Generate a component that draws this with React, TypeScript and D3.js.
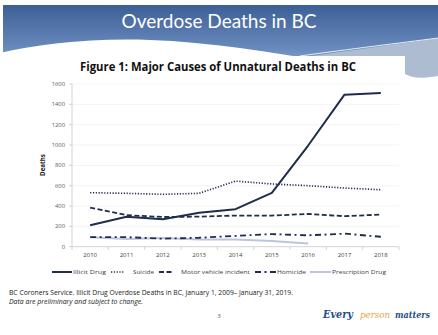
import React from "react";
import * as d3 from "d3";

const years = ["2010", "2011", "2012", "2013", "2014", "2015", "2016", "2017", "2018"];
const illicitDrug = [211, 294, 270, 334, 369, 530, 995, 1495, 1512];
const suicide = [531, 525, 515, 525, 645, 617, 600, 577, 560];
const motorVehicle = [385, 310, 292, 296, 306, 306, 322, 300, 316];
const homicide = [95, 94, 79, 88, 106, 124, 112, 128, 98];
const prescriptionDrug = [92, 76, 86, 72, 72, 55, 32];
const yTicks = [0, 200, 400, 600, 800, 1000, 1200, 1400, 1600];

const W = 438, H = 335;
const NAVY = "#1f2c4c";

type S = { name: string; values: number[]; color: string; width: number; dash?: string };
const series: S[] = [
  { name: "Illicit Drug", values: illicitDrug, color: NAVY, width: 2, dash: undefined },
  { name: "Suicide", values: suicide, color: NAVY, width: 1.6, dash: "1.2,1.6" },
  { name: "Motor vehicle incident", values: motorVehicle, color: NAVY, width: 1.8, dash: "5,2.5" },
  { name: "Homicide", values: homicide, color: NAVY, width: 1.8, dash: "6,3.5,2,3.5" },
  { name: "Prescription Drug", values: prescriptionDrug, color: "#bcc5de", width: 2, dash: undefined },
];

export default function App() {
  const x = d3.scaleBand<string>().domain(years).range([72, 399]);
  const y = d3.scaleLinear().domain([0, 1600]).range([246.7, 84]);
  const line = d3
    .line<number>()
    .x((_, i) => (x(years[i]) as number) + x.bandwidth() / 2)
    .y((d) => y(d));
  const font = "'Open Sans', 'Liberation Sans', sans-serif";

  const legendItems = [
    { s: series[0], x0: 52, x1: 72, tx: 73, tw: 33 },
    { s: series[1], x0: 111, x1: 125, tx: 133, tw: 21 },
    { s: series[2], x0: 159, x1: 174, tx: 181, tw: 69 },
    { s: series[3], x0: 255, x1: 276, tx: 277, tw: 29 },
    { s: series[4], x0: 310, x1: 331, tx: 332, tw: 54 },
  ];

  return (
    <svg width={W} height={H} style={{ position: "absolute", left: 0, top: 0, background: "#fff" }}>
      <defs>
        <linearGradient id="hdr" x1="0" y1="0" x2="0" y2="1">
          <stop offset="0" stopColor="#3c5f96" />
          <stop offset="0.6" stopColor="#6a8bbd" />
          <stop offset="1" stopColor="#a9bfdc" />
        </linearGradient>
      </defs>
      {/* header banner */}
      <rect x={3} y={5} width={435} height={75} fill="url(#hdr)" />
      <path d="M300,58 C350,50 400,44 438,38 L438,80 L300,80 Z" fill="#aebcd2" />
      <path d="M300,56 C350,49 400,43 438,38" fill="none" stroke="#e6edf6" strokeWidth={1} />
      <path d="M0,53 C40,44 90,38 150,40 C210,42 270,52 330,62 L405,70 L405,80 L0,80 Z" fill="#ffffff" />
      <path d="M405,74 C412,78 420,79 438,76 L438,90 L405,90 Z" fill="#ffffff" />
      <rect x={0} y={80} width={438} height={255} fill="#ffffff" />
      <rect x={0} y={56} width={405} height={30} fill="#ffffff" />
      <text x={219} y={28} textAnchor="middle" fill="#ffffff" fontFamily="Lato, sans-serif" fontSize={19}>
        Overdose Deaths in BC
      </text>

      {/* figure title */}
      <text x={80} y={71} fontFamily={font} fontWeight="bold" fontSize={11.5} fill="#111" textLength={276} lengthAdjust="spacingAndGlyphs">
        Figure 1: Major Causes of Unnatural Deaths in BC
      </text>

      {/* gridlines */}
      {yTicks.slice(1).map((t) => (
        <line key={t} x1={72} x2={399} y1={y(t)} y2={y(t)} stroke="#f0f0f0" strokeWidth={0.8} />
      ))}
      {/* axes */}
      <line x1={72} x2={72} y1={84} y2={246.7} stroke="#c8c8c8" strokeWidth={0.8} />
      <line x1={72} x2={399} y1={246.7} y2={246.7} stroke="#c8c8c8" strokeWidth={0.8} />
      {yTicks.map((t) => (
        <g key={t}>
          <line x1={69} x2={72} y1={y(t)} y2={y(t)} stroke="#c8c8c8" strokeWidth={0.8} />
          <text x={65} y={y(t) + 2} textAnchor="end" fontFamily={font} fontSize={5.8} fill="#595959">
            {t}
          </text>
        </g>
      ))}
      {years.map((yr, i) => (
        <g key={yr}>
          <line x1={x(yr) as number} x2={x(yr) as number} y1={246.7} y2={250} stroke="#c8c8c8" strokeWidth={0.8} />
          <text x={(x(yr) as number) + x.bandwidth() / 2} y={257} textAnchor="middle" fontFamily={font} fontSize={6} fill="#404040">
            {yr}
          </text>
          {i === years.length - 1 && (
            <line x1={399} x2={399} y1={246.7} y2={250} stroke="#c8c8c8" strokeWidth={0.8} />
          )}
        </g>
      ))}
      <text transform={`translate(45,${165}) rotate(-90)`} textAnchor="middle" fontFamily={font} fontWeight="bold" fontSize={6.2} fill="#222">
        Deaths
      </text>

      {/* series lines (prescription drawn first) */}
      {[series[4], series[3], series[2], series[1], series[0]].map((s) => (
        <path key={s.name} d={line(s.values) || ""} fill="none" stroke={s.color} strokeWidth={s.width} strokeDasharray={s.dash} strokeLinejoin="round" />
      ))}

      {/* legend */}
      {legendItems.map((it) => (
        <g key={it.s.name}>
          <line x1={it.x0} x2={it.x1} y1={272} y2={272} stroke={it.s.color} strokeWidth={it.s.width} strokeDasharray={it.s.dash} />
          <text x={it.tx} y={274} fontFamily={font} fontSize={5.8} fill="#404040" textLength={it.tw} lengthAdjust="spacingAndGlyphs">
            {it.s.name}
          </text>
        </g>
      ))}

      {/* footer */}
      <text x={9} y={295} fontFamily={font} fontSize={6.3} fill="#222" textLength={284} lengthAdjust="spacingAndGlyphs">
        BC Coroners Service. Illicit Drug Overdose Deaths in BC, January 1, 2009– January 31, 2019.
      </text>
      <text x={9} y={304} fontFamily={font} fontSize={6.3} fontStyle="italic" fill="#222" textLength={134} lengthAdjust="spacingAndGlyphs">
        Data are preliminary and subject to change.
      </text>
      <text x={219} y={318} textAnchor="middle" fontFamily={font} fontSize={5.5} fill="#444">
        3
      </text>
      <text x={323} y={318} fontFamily="'DejaVu Serif', serif" fontStyle="italic" fontWeight="bold" fontSize={11} fill="#1f4e8c" textLength={30} lengthAdjust="spacingAndGlyphs">
        Every
      </text>
      <text x={360} y={318} fontFamily="'DejaVu Serif', serif" fontStyle="italic" fontSize={10} fill="#e5a24a" textLength={30} lengthAdjust="spacingAndGlyphs">
        person
      </text>
      <text x={395} y={318} fontFamily="'DejaVu Serif', serif" fontStyle="italic" fontWeight="bold" fontSize={10} fill="#1f4e8c" textLength={35} lengthAdjust="spacingAndGlyphs">
        matters
      </text>
    </svg>
  );
}
